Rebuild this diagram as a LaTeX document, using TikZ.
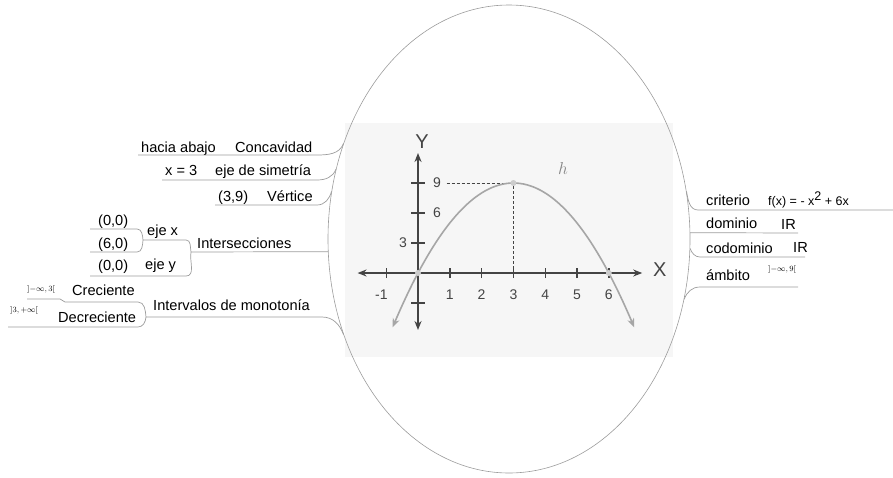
\documentclass[tikz,border=0pt]{standalone}
\usepackage{fontspec}
\setmainfont{Liberation Sans}
\usepackage{xcolor}
\usetikzlibrary{shapes.geometric,arrows.meta}
\definecolor{linea}{HTML}{9C9C9C}
\definecolor{ejes}{HTML}{444444}
\definecolor{curva}{HTML}{A6A6A6}
\definecolor{fondo}{HTML}{F6F6F6}

\begin{document}
\begin{tikzpicture}[x=1pt,y=-1pt,
  tema/.style={anchor=base west,inner sep=0pt,font=\fontsize{14.6}{17}\selectfont},
  dato/.style={anchor=base west,inner sep=0pt,font=\fontsize{12.5}{15}\selectfont},
  intervalo/.style={anchor=base west,inner sep=0pt,font=\fontsize{8}{9}\selectfont},
  rama/.style={draw=linea,line width=0.7pt},
  num/.style={inner sep=0pt,font=\fontsize{14}{16}\selectfont,text=ejes},
  flecha/.style={{Stealth[length=9pt,width=7pt]}-{Stealth[length=9pt,width=7pt]}}]
\useasboundingbox (0,0) rectangle (893,477);

% imagen central
\fill[fondo] (345,123) rectangle (673,357);
\begin{scope}[shift={(418,273)},x=31.8pt,y=10pt]
  \draw[ejes,line width=0.6pt,dash pattern=on 3pt off 2pt] (0.9,9) -- (3,9) -- (3,0);
  \draw[ejes,line width=1.8pt,flecha] (-1.9,0) -- (7.05,0);
  \draw[ejes,line width=1.8pt,flecha] (0,-5.7) -- (0,12);
  \foreach \x in {-1,1,2,3,4,5,6} {
    \draw[ejes,line width=1.4pt] (\x,-0.5) -- (\x,0.5);
  }
  \foreach \y in {-3,3,6,9} {
    \draw[ejes,line width=1.4pt] (-0.22,\y) -- (0.22,\y);
  }
  \foreach \x in {1,2,3,4,5,6} {
    \node[num] (n\x) at (\x,-2.2) {\x};
  }
  \node[num] (nm1) at (-1.15,-2.2) {-1};
  \node[num] (n9) at (0.6,9) {9};
  \node[num] (n6) at (0.6,6) {6};
  \node[num] (n3) at (-0.47,3) {3};
  \node[num,font=\fontsize{20}{22}\selectfont] (ey) at (0.13,13.1) {Y};
  \node[num,font=\fontsize{20}{22}\selectfont] (ex) at (7.6,0.3) {X};
  \node[inner sep=0pt,text=curva!80!black,font=\fontsize{18}{20}\selectfont] (h) at (4.56,10.5) {$h$};
  \draw[curva,line width=1.6pt,flecha] plot[domain=-0.8:6.8,samples=60,smooth] (\x,{-\x*\x+6*\x});
  \fill[gray!40] (0,0) circle[radius=3pt] (3,9) circle[radius=3pt] (6,0) circle[radius=3pt];
\end{scope}
\node[ellipse,draw=linea,line width=0.6pt,minimum width=362pt,minimum height=468pt,inner sep=0pt] (centro) at (509,239) {};

% ramas de la izquierda
\node[tema] (conc) at (235,152) {Concavidad};
\node[tema] (abajo) at (141,152) {hacia abajo};
\node[tema] (sim) at (215,175) {eje de simetría};
\node[tema] (x3) at (165,175) {x = 3};
\node[tema] (vert) at (267,201) {Vértice};
\node[tema] (v39) at (218,201) {(3,9)};
\node[tema] (inter) at (197,248) {Intersecciones};
\node[tema] (ejex) at (147,235) {eje x};
\node[tema] (ejey) at (145,269) {eje y};
\node[tema] (p00a) at (98,225) {(0,0)};
\node[tema] (p60) at (98,248) {(6,0)};
\node[tema] (p00b) at (98,270) {(0,0)};
\node[tema] (interv) at (153,310) {Intervalos de monotonía};
\node[tema] (crec) at (72,295) {Creciente};
\node[tema] (decr) at (58,322) {Decreciente};
\node[intervalo] (icrec) at (27,291) {$]{-\infty},3[$};
\node[intervalo] (idecr) at (10,312) {$]3,{+\infty}[$};

\coordinate (abajo-a) at (138,155);
\coordinate (conc-a) at (227,155);
\coordinate (conc-b) at (317,155);
\coordinate (x3-a) at (162,180);
\coordinate (sim-a) at (207,180);
\coordinate (sim-b) at (317,180);
\coordinate (v39-a) at (215,205);
\coordinate (vert-a) at (260,205);
\coordinate (vert-b) at (317,205);
\coordinate (inter-a) at (191,252);
\coordinate (ejex-a) at (143,240);
\coordinate (ejex-b) at (186,240);
\coordinate (p00a-a) at (90,229);
\coordinate (p00a-b) at (137,229);
\coordinate (p60-a) at (90,252);
\coordinate (p60-b) at (137,252);
\coordinate (p00b-a) at (90,276);
\coordinate (ejey-a) at (143,276);
\coordinate (ejey-b) at (186,276);
\coordinate (interv-a) at (146,317);
\coordinate (interv-b) at (322,317);
\coordinate (crec-a) at (65,302);
\coordinate (crec-b) at (138,302);
\coordinate (icrec-a) at (27,299);
\coordinate (icrec-b) at (60,299);
\coordinate (decr-a) at (8,327);
\coordinate (decr-b) at (138,327);

\draw[rama] (centro.150) to[out=250,in=0] (conc-b) -- (conc-a) -- (abajo-a);
\draw[rama] (centro.158) to[out=250,in=0] (sim-b) -- (sim-a) -- (x3-a);
\draw[rama] (centro.165) to[out=255,in=0] (vert-b) -- (vert-a) -- (v39-a);
\draw[rama] (centro.184) -- (inter-a);
\draw[rama] (inter-a) to[out=100,in=0] (ejex-b) -- (ejex-a);
\draw[rama] (ejex-a) to[out=95,in=0] (p00a-b) -- (p00a-a);
\draw[rama] (ejex-a) to[out=-95,in=0] (p60-b) -- (p60-a);
\draw[rama] (inter-a) to[out=-100,in=0] (ejey-b) -- (ejey-a) -- (p00b-a);
\draw[rama] (centro.210) to[out=110,in=0] (interv-b) -- (interv-a);
\draw[rama] (interv-a) to[out=95,in=0] (crec-b) -- (crec-a) to[out=180,in=0] (icrec-b) -- (icrec-a);
\draw[rama] (interv-a) to[out=-95,in=0] (decr-b) -- (decr-a);

% ramas de la derecha
\node[tema] (crit) at (706,205) {criterio};
\node[dato] (fx) at (768,205) {f(x) = - x\raisebox{5pt}{2} + 6x};
\node[tema] (dom) at (706,228) {dominio};
\node[tema] (domr) at (781,229) {IR};
\node[tema] (cod) at (706,253) {codominio};
\node[tema] (codr) at (793,252) {IR};
\node[tema] (amb) at (706,280) {ámbito};
\node[intervalo] (ambr) at (768,271) {$]{-\infty},9[$};

\coordinate (crit-a) at (698,210);
\coordinate (crit-b) at (893,210);
\coordinate (dom-b) at (798,233);
\coordinate (cod-a) at (700,257);
\coordinate (cod-b) at (805,257);
\coordinate (amb-a) at (700,287);
\coordinate (amb-b) at (798,287);

\draw[rama] (centro.15) to[out=-80,in=180] (crit-a) -- (crit-b);
\draw[rama] (centro.2) -- (dom-b);
\draw[rama] (centro.357) to[out=-70,in=180] (cod-a) -- (cod-b);
\draw[rama] (centro.341) to[out=70,in=180] (amb-a) -- (amb-b);
\end{tikzpicture}
\end{document}
